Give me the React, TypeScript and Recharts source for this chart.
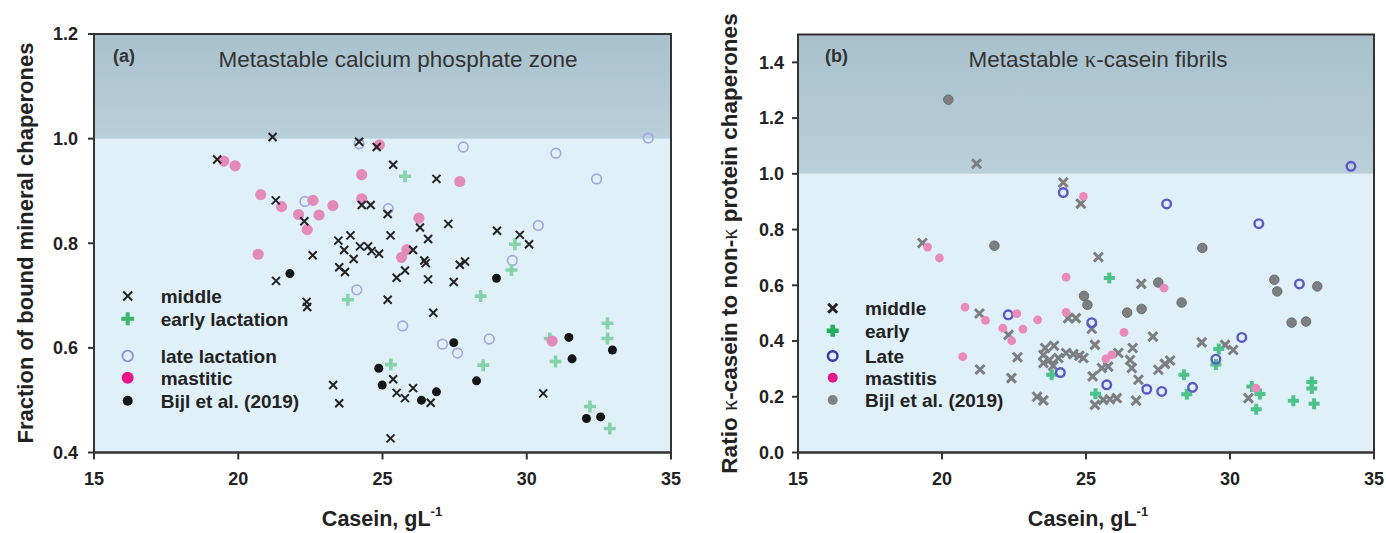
import React from 'react';
import { ScatterChart, Scatter, XAxis, YAxis, ReferenceArea } from 'recharts';

const FONT = '"Liberation Sans", Arial, Helvetica, sans-serif';
const SERIF = '"Liberation Serif", "Times New Roman", serif';

const xTicks = [15, 20, 25, 30, 35];
const yTicksA = [0.4, 0.6, 0.8, 1.0, 1.2];
const yTicksB = [0, 0.2, 0.4, 0.6, 0.8, 1.0, 1.2, 1.4];

// Panel (a): fraction of bound mineral chaperones vs casein
const aMiddle: number[][] = [[19.27,0.960],[21.19,1.003],[21.30,0.882],[22.29,0.842],[22.58,0.777],[24.19,0.994],[24.80,0.984],[25.37,0.950],[24.28,0.873],[24.59,0.873],[25.18,0.856],[25.28,0.815],[23.47,0.805],[23.89,0.815],[23.67,0.787],[24.00,0.770],[24.22,0.794],[24.50,0.794],[24.62,0.785],[24.88,0.780],[23.50,0.754],[23.70,0.745],[21.31,0.728],[25.49,0.734],[25.78,0.748],[26.06,0.787],[26.30,0.830],[26.58,0.808],[27.28,0.837],[28.97,0.824],[29.76,0.816],[30.08,0.798],[26.87,0.923],[26.45,0.767],[26.50,0.762],[27.68,0.759],[27.86,0.765],[26.58,0.731],[27.47,0.726],[25.18,0.692],[22.37,0.688],[22.39,0.678],[26.76,0.667],[23.29,0.529],[23.50,0.494],[25.37,0.540],[25.49,0.514],[25.78,0.504],[26.06,0.523],[26.67,0.495],[30.57,0.513],[25.28,0.427]];
const aEarly: number[][] = [[25.78,0.928],[29.59,0.798],[29.47,0.749],[28.40,0.699],[23.80,0.692],[25.29,0.568],[28.49,0.567],[30.80,0.618],[31.00,0.574],[32.80,0.647],[32.80,0.618],[32.19,0.488],[32.88,0.446]];
const aLate: number[][] = [[22.31,0.880],[24.19,0.990],[25.20,0.866],[27.80,0.984],[31.01,0.972],[34.21,1.001],[32.42,0.923],[30.40,0.834],[29.50,0.767],[25.70,0.642],[27.08,0.607],[27.60,0.590],[28.70,0.617],[24.11,0.711]];
const aMastitic: number[][] = [[19.50,0.957],[19.89,0.948],[20.78,0.893],[21.50,0.870],[22.09,0.855],[22.59,0.882],[22.80,0.854],[23.28,0.872],[22.39,0.826],[20.69,0.779],[24.28,0.931],[24.28,0.885],[24.89,0.988],[27.68,0.918],[26.26,0.848],[25.85,0.788],[25.66,0.773],[30.88,0.613]];
const aBijl: number[][] = [[21.79,0.742],[24.87,0.561],[24.99,0.529],[28.95,0.733],[27.47,0.610],[28.26,0.537],[26.87,0.516],[26.35,0.500],[31.46,0.620],[31.57,0.579],[32.97,0.596],[32.07,0.465],[32.56,0.468]];

// Panel (b): ratio kappa-casein to non-kappa protein chaperones vs casein
const bMiddle: number[][] = [[19.32,0.752],[21.20,1.036],[24.21,0.969],[24.82,0.893],[25.43,0.701],[26.92,0.605],[21.30,0.499],[22.31,0.422],[22.62,0.342],[21.32,0.298],[22.41,0.267],[23.30,0.200],[23.52,0.187],[24.38,0.482],[24.65,0.482],[25.20,0.444],[25.31,0.386],[23.58,0.375],[23.89,0.383],[23.52,0.350],[23.73,0.332],[24.04,0.339],[24.31,0.357],[24.56,0.353],[24.77,0.347],[24.91,0.339],[23.52,0.321],[23.86,0.311],[26.62,0.375],[27.32,0.416],[26.12,0.357],[26.53,0.332],[26.59,0.303],[25.77,0.308],[25.55,0.303],[25.23,0.273],[26.82,0.261],[26.07,0.195],[25.83,0.191],[25.60,0.189],[25.31,0.171],[26.74,0.186],[27.51,0.297],[27.74,0.318],[27.92,0.330],[29.02,0.395],[29.83,0.386],[30.11,0.368],[30.64,0.195]];
const bEarly: number[][] = [[25.81,0.626],[23.81,0.279],[25.33,0.211],[28.40,0.279],[28.50,0.209],[29.61,0.371],[29.51,0.316],[30.76,0.237],[31.04,0.210],[30.91,0.155],[32.20,0.186],[32.84,0.253],[32.84,0.230],[32.92,0.175]];
const bLate: number[][] = [[24.21,0.933],[27.80,0.892],[31.00,0.821],[34.20,1.027],[22.30,0.494],[25.20,0.466],[24.11,0.287],[25.72,0.243],[27.11,0.227],[27.63,0.219],[28.70,0.234],[29.51,0.335],[30.41,0.413],[32.41,0.605]];
const bMastitis: number[][] = [[19.50,0.737],[19.91,0.698],[24.91,0.919],[20.80,0.522],[21.51,0.474],[22.11,0.446],[22.60,0.498],[22.42,0.401],[22.81,0.443],[23.32,0.476],[20.72,0.344],[24.31,0.629],[24.31,0.503],[27.71,0.590],[26.32,0.431],[25.69,0.336],[25.89,0.350],[30.90,0.231]];
const bBijl: number[][] = [[20.22,1.266],[21.82,0.742],[29.04,0.734],[27.51,0.610],[24.93,0.562],[25.05,0.530],[26.43,0.502],[26.93,0.515],[28.32,0.538],[31.54,0.620],[31.64,0.578],[33.03,0.596],[32.14,0.466],[32.64,0.470]];

const legendA = ['middle', 'early lactation', 'late lactation', 'mastitic', 'Bijl et al. (2019)'];
const legendB = ['middle', 'early', 'Late', 'mastitis', 'Bijl et al. (2019)'];

const toPts = (arr: number[][]) => arr.map(([x, y]) => ({ x, y }));

const crossPath = (cx: number, cy: number, s: number) => {
  const h = s / 2;
  return `M${cx - h},${cy - h}L${cx + h},${cy + h}M${cx - h},${cy + h}L${cx + h},${cy - h}`;
};
const plusPath = (cx: number, cy: number, s: number) => {
  const h = s / 2;
  return `M${cx - h},${cy}L${cx + h},${cy}M${cx},${cy - h}L${cx},${cy + h}`;
};

const crossShape = (color: string, size: number, sw: number) => (p: any) => {
  const { cx, cy } = p;
  if (cx == null || cy == null) return <g />;
  return <path d={crossPath(cx, cy, size)} stroke={color} strokeWidth={sw} fill="none" />;
};
const plusShape = (color: string, size: number, sw: number) => (p: any) => {
  const { cx, cy } = p;
  if (cx == null || cy == null) return <g />;
  return <path d={plusPath(cx, cy, size)} stroke={color} strokeWidth={sw} fill="none" />;
};
const ringShape = (color: string, r: number, sw: number) => (p: any) => {
  const { cx, cy } = p;
  if (cx == null || cy == null) return <g />;
  return <circle cx={cx} cy={cy} r={r} stroke={color} strokeWidth={sw} fill="none" />;
};
const dotShape = (color: string, r: number, stroke?: string) => (p: any) => {
  const { cx, cy } = p;
  if (cx == null || cy == null) return <g />;
  return <circle cx={cx} cy={cy} r={r} fill={color} stroke={stroke || 'none'} strokeWidth={stroke ? 0.8 : 0} />;
};

const tickStyle = { fontSize: 18, fontWeight: 700, fill: '#222', fontFamily: FONT };
const axisLine = { stroke: '#333', strokeWidth: 2 };

const PanelA = () => (
  <ScatterChart width={690} height={533} margin={{ top: 34, right: 19, left: 34, bottom: 50.5 }}>
    <XAxis type="number" dataKey="x" domain={[15, 35]} ticks={xTicks} height={30}
      tick={tickStyle} tickSize={7} tickMargin={13} axisLine={axisLine} tickLine={axisLine} />
    <YAxis type="number" dataKey="y" domain={[0.4, 1.2]} ticks={yTicksA} width={60}
      tickFormatter={(v: number) => v.toFixed(1)} tick={tickStyle} tickSize={6} tickMargin={10}
      axisLine={axisLine} tickLine={axisLine} />
    <ReferenceArea x1={15} x2={35} y1={0.4} y2={1.0} fill="#e0f0f9" fillOpacity={1} stroke="none" />
    <ReferenceArea x1={15} x2={35} y1={1.0} y2={1.2} fill="url(#zoneGrad)" fillOpacity={1} stroke="none" />
    <ReferenceArea x1={15} x2={35} y1={0.4} y2={1.2} fill="none" fillOpacity={0} stroke="#333" strokeWidth={2} />
    <Scatter data={toPts(aLate)} shape={ringShape('#a2a8e2', 4.8, 1.7)} isAnimationActive={false} />
    <Scatter data={toPts(aEarly)} shape={plusShape('#86d3aa', 12, 3.6)} isAnimationActive={false} />
    <Scatter data={toPts(aMastitic)} shape={dotShape('#e38abb', 5.6)} isAnimationActive={false} />
    <Scatter data={toPts(aBijl)} shape={dotShape('#151515', 4.5)} isAnimationActive={false} />
    <Scatter data={toPts(aMiddle)} shape={crossShape('#222', 8, 2)} isAnimationActive={false} />
  </ScatterChart>
);

const PanelB = () => (
  <ScatterChart width={686} height={533} margin={{ top: 34.5, right: 12, left: 38, bottom: 50.5 }}>
    <XAxis type="number" dataKey="x" domain={[15, 35]} ticks={xTicks} height={30}
      tick={tickStyle} tickSize={7} tickMargin={13} axisLine={axisLine} tickLine={axisLine} />
    <YAxis type="number" dataKey="y" domain={[0, 1.5]} ticks={yTicksB} width={60}
      tickFormatter={(v: number) => v.toFixed(1)} tick={tickStyle} tickSize={6} tickMargin={8}
      axisLine={axisLine} tickLine={axisLine} />
    <ReferenceArea x1={15} x2={35} y1={0} y2={1.0} fill="#e0f0f9" fillOpacity={1} stroke="none" />
    <ReferenceArea x1={15} x2={35} y1={1.0} y2={1.5} fill="url(#zoneGrad)" fillOpacity={1} stroke="none" />
    <ReferenceArea x1={15} x2={35} y1={0} y2={1.5} fill="none" fillOpacity={0} stroke="#333" strokeWidth={2} />
    <Scatter data={toPts(bMiddle)} shape={crossShape('#7c7e81', 9, 3)} isAnimationActive={false} />
    <Scatter data={toPts(bEarly)} shape={plusShape('#4cc38a', 11, 4)} isAnimationActive={false} />
    <Scatter data={toPts(bLate)} shape={ringShape('#5a58c4', 4.3, 2.4)} isAnimationActive={false} />
    <Scatter data={toPts(bBijl)} shape={dotShape('#7d7f81', 4.8, '#5f6163')} isAnimationActive={false} />
    <Scatter data={toPts(bMastitis)} shape={dotShape('#e98abb', 4.4)} isAnimationActive={false} />
  </ScatterChart>
);

const legendRowsA = [296, 318.7, 356, 377.7, 400.7];
const legendRowsB = [308.3, 330.7, 356, 377.7, 400];

export default function App() {
  const t = { fontFamily: FONT, fontWeight: 700, fill: '#222' } as any;
  return (
    <div style={{ position: 'absolute', left: 0, top: 0, width: 1386, height: 533, background: '#fff' }}>
      <svg width={0} height={0} style={{ position: 'absolute' }}>
        <defs>
          <linearGradient id="zoneGrad" x1="0" y1="0" x2="0" y2="1">
            <stop offset="0%" stopColor="#a9c1cd" />
            <stop offset="100%" stopColor="#b9d0db" />
          </linearGradient>
        </defs>
      </svg>
      <div style={{ position: 'absolute', left: 0, top: 0 }}>
        <PanelA />
      </div>
      <div style={{ position: 'absolute', left: 700, top: 0 }}>
        <PanelB />
      </div>
      <svg width={1386} height={533} style={{ position: 'absolute', left: 0, top: 0, pointerEvents: 'none' }}>
        {/* panel titles */}
        <text x={113} y={62} style={{ ...t, fontSize: 18, fill: '#333' }}>(a)</text>
        <text x={398} y={67} textAnchor="middle" style={{ fontFamily: FONT, fontSize: 22.5, fill: '#333' }}>Metastable calcium phosphate zone</text>
        <text x={825} y={62} style={{ ...t, fontSize: 18, fill: '#333' }}>(b)</text>
        <text x={1098} y={67} textAnchor="middle" style={{ fontFamily: FONT, fontSize: 22.5, fill: '#333' }}>
          Metastable <tspan style={{ fontFamily: SERIF }}>κ</tspan>-casein fibrils
        </text>
        {/* axis titles */}
        <text transform="rotate(-90)" x={-243} y={33} textAnchor="middle" style={{ ...t, fontSize: 22 }}>Fraction of bound mineral chaperones</text>
        <text transform="rotate(-90)" x={-243.5} y={736.5} textAnchor="middle" style={{ ...t, fontSize: 22.5 }}>
          Ratio <tspan style={{ fontFamily: SERIF, fontWeight: 400 }}>κ</tspan>-casein to non-<tspan style={{ fontFamily: SERIF, fontWeight: 400 }}>κ</tspan> protein chaperones
        </text>
        <text x={382} y={526} textAnchor="middle" style={{ ...t, fontSize: 21.5 }}>
          Casein, gL<tspan fontSize={13} dy={-10}>-1</tspan>
        </text>
        <text x={1088} y={526} textAnchor="middle" style={{ ...t, fontSize: 21.5 }}>
          Casein, gL<tspan fontSize={13} dy={-10}>-1</tspan>
        </text>
        {/* legend (a) */}
        <path d={crossPath(127.7, legendRowsA[0], 9)} stroke="#222" strokeWidth={2} fill="none" />
        <path d={plusPath(127.7, legendRowsA[1], 13)} stroke="#3cb56e" strokeWidth={4} fill="none" />
        <circle cx={127.7} cy={legendRowsA[2]} r={5.3} stroke="#8f8fd6" strokeWidth={1.8} fill="none" />
        <circle cx={127.7} cy={legendRowsA[3]} r={6} fill="#e8168a" />
        <circle cx={127.7} cy={legendRowsA[4]} r={5} fill="#151515" />
        {legendA.map((s, i) => (
          <text key={s} x={160.7} y={legendRowsA[i] + 7} style={{ ...t, fontSize: 19 }}>{s}</text>
        ))}
        {/* legend (b) */}
        <path d={crossPath(832.7, legendRowsB[0], 9)} stroke="#222" strokeWidth={3} fill="none" />
        <path d={plusPath(832.7, legendRowsB[1], 12)} stroke="#1fae5c" strokeWidth={4.5} fill="none" />
        <circle cx={832.7} cy={legendRowsB[2]} r={4.8} stroke="#3a36a8" strokeWidth={2.5} fill="none" />
        <circle cx={832.7} cy={legendRowsB[3]} r={5} fill="#e6168c" />
        <circle cx={832.7} cy={legendRowsB[4]} r={5} fill="#808284" />
        {legendB.map((s, i) => (
          <text key={s} x={865} y={legendRowsB[i] + 7} style={{ ...t, fontSize: 19 }}>{s}</text>
        ))}
      </svg>
    </div>
  );
}
